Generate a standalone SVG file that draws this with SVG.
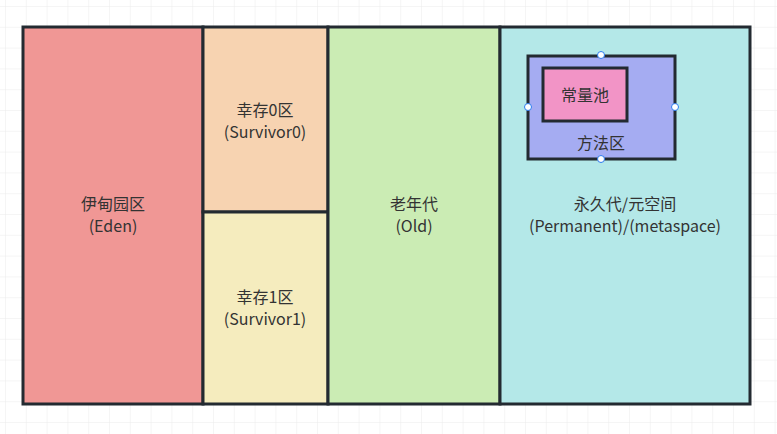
<svg xmlns="http://www.w3.org/2000/svg" width="777" height="434" viewBox="0 0 777 434">
<defs>
<pattern id="grid" x="5" y="6" width="20.8" height="20.8" patternUnits="userSpaceOnUse">
<path d="M0 0H20.8M0 0V20.8" fill="none" stroke="#ebebeb" stroke-width="1"/>
</pattern>
</defs>
<style>
.b{stroke:#232a31;stroke-width:3}
.t{font-family:"Noto Sans CJK SC","Liberation Sans",sans-serif;font-size:16px;fill:#333;text-anchor:middle}
.h{fill:#fff;stroke:#2b7cf0;stroke-width:1}
</style>
<rect width="777" height="434" fill="#fff"/>
<rect width="777" height="434" fill="url(#grid)"/>
<g id="eden"><rect class="b" x="23" y="27" width="180" height="377" fill="#f09795"/>
<text class="t" x="113" y="210">伊甸园区</text><text class="t" x="113" y="232">(Eden)</text></g>
<g id="s0"><rect class="b" x="203" y="27" width="125" height="185" fill="#f7d3b1"/>
<text class="t" x="265" y="116">幸存0区</text><text class="t" x="265" y="138">(Survivor0)</text></g>
<g id="s1"><rect class="b" x="203" y="212" width="125" height="192" fill="#f5ecbe"/>
<text class="t" x="265" y="303">幸存1区</text><text class="t" x="265" y="325">(Survivor1)</text></g>
<g id="old"><rect class="b" x="328" y="27" width="172" height="377" fill="#cbecb4"/>
<text class="t" x="414" y="210">老年代</text><text class="t" x="414" y="232">(Old)</text></g>
<g id="perm"><rect class="b" x="500" y="27" width="250" height="377" fill="#b4e8e8"/>
<text class="t" x="625" y="210">永久代/元空间</text><text class="t" x="625" y="232">(Permanent)/(metaspace)</text></g>
<g id="method"><rect class="b" x="528" y="56" width="147" height="103" fill="#a5acf2"/>
<text class="t" x="601" y="149">方法区</text></g>
<g id="pool"><rect class="b" x="543" y="68" width="84" height="53" fill="#f294c6"/>
<text class="t" x="585" y="101">常量池</text></g>
<g id="handles">
<circle class="h" cx="601" cy="55" r="3.5"/><circle class="h" cx="528" cy="107" r="3.5"/>
<circle class="h" cx="675" cy="107" r="3.5"/><circle class="h" cx="601" cy="159" r="3.5"/>
</g>
<g id="connectors"/>
</svg>
